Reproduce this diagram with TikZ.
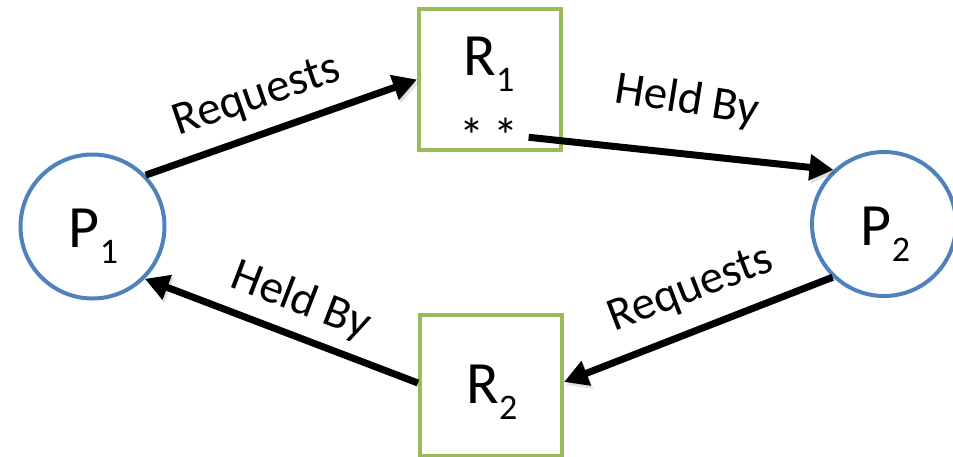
\documentclass[tikz,border=0pt]{standalone}
\usepackage{fontspec}
\setmainfont{Carlito}
\usetikzlibrary{arrows.meta}

\definecolor{procblue}{HTML}{4F81BD}
\definecolor{resgreen}{HTML}{9BBB59}

% big letter with a lowered index, as in P_1 or R_2
\newcommand\idxname[2]{{\fontsize{60}{60}\selectfont #1\raisebox{-16pt}{\fontsize{36}{36}\selectfont #2}}}

\tikzset{
  process/.style={circle, draw=procblue, line width=4pt, minimum size=144pt, inner sep=0pt, fill=white},
  resource/.style={rectangle, draw=resgreen, line width=4pt, minimum width=142pt, minimum height=141pt, inner sep=0pt, fill=white},
  nametext/.style={anchor=base, inner sep=0pt},
  edgetext/.style={font=\fontsize{47}{47}\selectfont, inner sep=0pt},
  link/.style={line width=7pt, -{Triangle[length=24pt,width=25pt]},
    preaction={draw, black, opacity=0.12, transform canvas={xshift=2pt,yshift=-3pt}}},
}

\begin{document}
\begin{tikzpicture}[x=1pt,y=-1pt]
  \useasboundingbox (0,0) rectangle (953,456);
  \clip (0,0) rectangle (953,456);

  % processes and resources
  \node[process]  (P1) at (92.5,226.5) {};
  \node[process]  (P2) at (884,224) {};
  \node[resource] (R1) at (490,79.5) {};
  \node[resource] (R2) at (491,385) {};

  % their names
  \node[nametext] (P1t) at (93.5,247) {\idxname{P}{1}};
  \node[nametext] (P2t) at (885.5,245) {\idxname{P}{2}};
  \node[nametext] (R1t) at (489,75) {\idxname{R}{1}};
  \node[nametext] (R2t) at (492,403) {\idxname{R}{2}};
  \node[nametext, font=\fontsize{50}{50}\selectfont] (stars) at (489,153) {*\hspace{9pt}*};

  % request and hold edges
  \draw[link] (P1.44) -- (R1.west);
  \draw[link] ([xshift=10pt,yshift=-2pt]stars.east) coordinate (held1) -- (P2.133);
  \draw[link] (P2.226) -- ([yshift=3pt]R2.east);
  \draw[link] ([yshift=2pt]R2.west) -- (P1.-45);

  % edge labels
  \node[edgetext, rotate=19]  (l1) at (257,97)  {Requests};
  \node[edgetext, rotate=-9]  (l2) at (687,101) {Held By};
  \node[edgetext, rotate=21]  (l3) at (691,290) {Requests};
  \node[edgetext, rotate=-21] (l4) at (301,301) {Held By};
\end{tikzpicture}
\end{document}
